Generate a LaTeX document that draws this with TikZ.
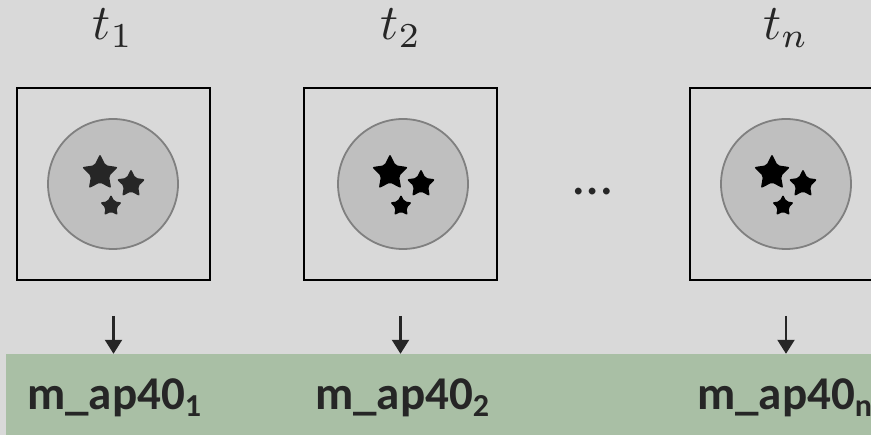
\documentclass[tikz,border=0pt]{standalone}
\usepackage{fontspec}
\setmainfont{Carlito}
\usepackage{xcolor}
\usepackage{tikz}
\usetikzlibrary{arrows.meta,shapes.geometric}

\definecolor{bggray}{HTML}{D9D9D9}
\definecolor{discgray}{HTML}{BFBFBF}
\definecolor{rimgray}{HTML}{808080}
\definecolor{bandgreen}{HTML}{A9BFA5}
\definecolor{inkgray}{HTML}{262626}

\begin{document}
\begin{tikzpicture}[>=Stealth,x=1pt,y=-1pt,
  frame/.style={draw=black,line width=2pt,minimum width=193pt,minimum height=192pt,inner sep=0pt},
  disc/.style={circle,fill=discgray,draw=rimgray,line width=1.8pt,minimum size=130pt,inner sep=0pt},
  bigstar/.style={star,star points=5,star point ratio=2.0,fill=black,rounded corners=2pt,inner sep=0pt,minimum size=38pt},
  midstar/.style={bigstar,minimum size=30pt},
  tinystar/.style={bigstar,minimum size=23pt},
  tlab/.style={scale=5,text=inkgray,anchor=base},
  outlab/.style={font=\bfseries\fontsize{47}{56}\selectfont,text=inkgray,anchor=base west,inner sep=0pt},
  flow/.style={-{Triangle[width=17pt,length=14pt]},line width=2.2pt,draw=inkgray}]
  \useasboundingbox (0,0) rectangle (871,435);
  \clip (0,0) rectangle (871,435);
  \fill[bggray] (0,0) rectangle (871,435);
  % green output band
  \node[fill=bandgreen,minimum width=865pt,minimum height=81pt,inner sep=0pt] (band) at (438.5,394.5) {};
  % time steps
  \node[tlab] (t1) at (113,40) {$t_1$};
  \node[tlab] (t2) at (401,40) {$t_2$};
  \node[tlab] (tn) at (786,40) {$t_n$};
  % frames with the disc and its stars
  \node[frame] (box1) at (113.5,184) {};
  \node[frame] (box2) at (400.5,184) {};
  \node[frame] (boxn) at (786,184) {};
  \node[disc] (disc1) at (113,184) {};
  \node[disc] (disc2) at (403,184) {};
  \node[disc] (discn) at (786,184) {};
  \node[bigstar,fill=inkgray] (s1a) at ([shift={(-13,-11)}]disc1.center) {};
  \node[midstar,fill=inkgray] (s1b) at ([shift={(18,0)}]disc1.center) {};
  \node[tinystar,fill=inkgray] (s1c) at ([shift={(-2,22)}]disc1.center) {};
  \node[bigstar] (s2a) at ([shift={(-13,-11)}]disc2.center) {};
  \node[midstar] (s2b) at ([shift={(18,0)}]disc2.center) {};
  \node[tinystar] (s2c) at ([shift={(-2,22)}]disc2.center) {};
  \node[bigstar] (sna) at ([shift={(-14,-11)}]discn.center) {};
  \node[midstar] (snb) at ([shift={(17,0)}]discn.center) {};
  \node[tinystar] (snc) at ([shift={(-3,22)}]discn.center) {};
  % gap between t_2 and t_n
  \node[font=\fontsize{56}{64}\selectfont,text=inkgray,anchor=base] (gap) at (593,195) {…};
  % arrows into the band
  \coordinate (a1) at ([yshift=-35pt]box1.south);
  \coordinate (a2) at ([yshift=-35pt]box2.south);
  \coordinate (an) at ([yshift=-35pt]boxn.south);
  \draw[flow] (a1) -- (a1 |- band.north);
  \draw[flow] (a2) -- (a2 |- band.north);
  \draw[flow] (an) -- (an |- band.north);
  % output names
  \node[outlab] (m1) at (27,410) {m\_ap40\raisebox{-7pt}{\fontsize{32}{34}\selectfont 1}};
  \node[outlab] (m2) at (315,410) {m\_ap40\raisebox{-7pt}{\fontsize{32}{34}\selectfont 2}};
  \node[outlab] (mn) at (697,410) {m\_ap40\raisebox{-7pt}{\fontsize{32}{34}\selectfont n}};
\end{tikzpicture}
\end{document}
